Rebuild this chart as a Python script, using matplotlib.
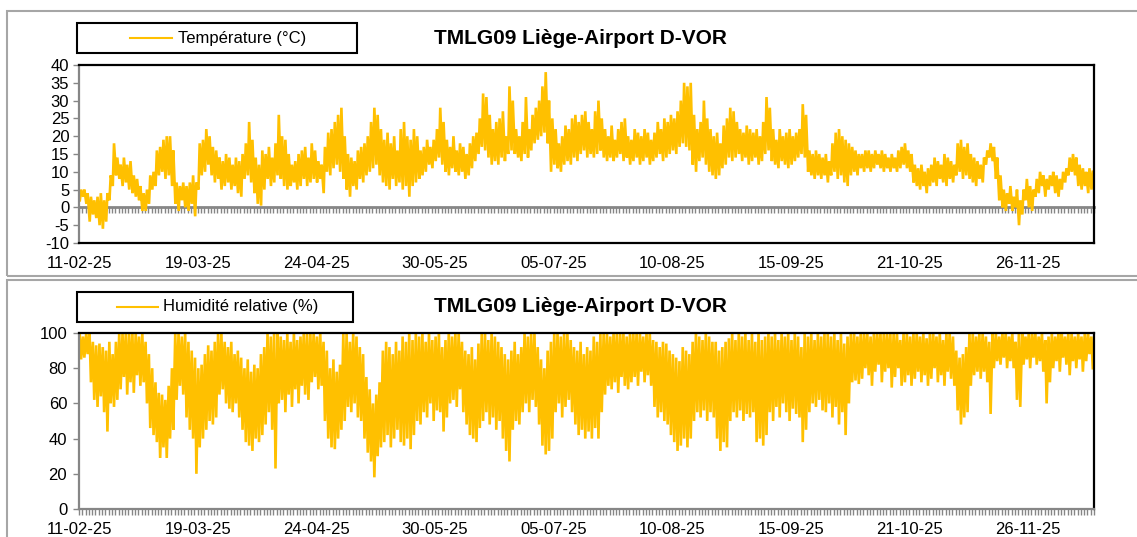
import matplotlib
matplotlib.use("Agg")
import matplotlib.pyplot as plt
import matplotlib.dates as mdates
from matplotlib.ticker import NullFormatter
from matplotlib.patches import Rectangle
from matplotlib.lines import Line2D
import numpy as np
import pandas as pd

plt.rcParams['font.family'] = ['Liberation Sans', 'DejaVu Sans']
plt.rcParams['axes.unicode_minus'] = False

# ---------------- data ----------------
station = "TMLG09 Liège-Airport D-VOR"
temp_label = "Température (°C)"
hum_label = "Humidité relative (%)"
start_date = "2025-02-11"
end_date = "2025-12-16"
tick_dates = ["2025-02-11", "2025-03-19", "2025-04-24", "2025-05-30", "2025-07-05",
              "2025-08-10", "2025-09-15", "2025-10-21", "2025-11-26"]
temp_ticks = [-10, -5, 0, 5, 10, 15, 20, 25, 30, 35, 40]
hum_ticks = [0, 20, 40, 60, 80, 100]

# daily minimum / maximum temperature (°C), from 11-02-25
temp_min = [2, 3, 1, -4, -2, -3, -5, -6, -4, 2,
            6, 9, 8, 6, 7, 5, 4, 3, 2, -1,
            -1, 1, 5, 6, 9, 10, 8, 9, 6, 1,
            -1, 2, 0, -1, 1, -2.5, 5, 9, 10, 12,
            9, 7, 8, 5, 6, 7, 5, 6, 4, 3,
            8, 9, 7, 4, 1, 0.5, 5, 8, 6, 7,
            9, 8, 6, 5, 6, 7, 5, 6, 8, 6,
            7, 8, 7, 8, 4, 10, 9, 11, 12, 10,
            8, 5, 3, 6, 5, 8, 7, 9, 10, 11,
            12, 9, 7, 6, 5, 8, 6, 7, 5, 6,
            3, 6, 7, 8, 9, 10, 12, 11, 13, 14,
            12, 10, 9, 11, 10, 9, 10, 8, 9, 11,
            13, 15, 17, 16, 14, 12, 13, 12, 14, 13,
            15, 16, 15, 14, 13, 15, 14, 16, 18, 19,
            20, 21, 18, 10, 12, 11, 10, 12, 13, 12,
            14, 13, 15, 16, 14, 15, 14, 15, 16, 14,
            13, 14, 13, 14, 15, 13, 14, 12, 13, 14,
            12, 13, 14, 12, 13, 14, 15, 13, 14, 15,
            16, 15, 17, 18, 17, 16, 12, 10, 13, 14,
            12, 10, 9, 8, 9, 11, 12, 14, 13, 14,
            15, 13, 14, 12, 13, 14, 12, 13, 15, 16,
            13, 12, 11, 13, 12, 11, 12, 13, 14, 15,
            14, 10, 9, 8, 9, 8, 9, 7, 9, 10,
            8, 9, 7, 6, 9, 10, 9, 11, 10, 11,
            10, 11, 12, 11, 10, 11, 10, 11, 10, 11,
            12, 11, 10, 7, 6, 5, 6, 4, 6, 7,
            6, 8, 7, 6, 8, 7, 9, 10, 8, 9,
            8, 7, 6, 8, 7, 12, 14, 13, 8, 2,
            0, -1, 1, -1, 0, -5, -2, 2, 0, -1,
            3, 4, 6, 3, 5, 6, 4, 3, 5, 7,
            9, 10, 9, 6, 5, 6, 4, 5]
temp_max = [5, 5, 4, 3, 2, 3, 4, 2, 4, 9,
            18, 14, 12, 14, 12, 13, 9, 8, 6, 4,
            5, 9, 10, 16, 17, 19, 20, 20, 16, 7,
            6, 7, 6, 7, 9, 7, 18, 19, 22, 20,
            17, 16, 14, 13, 15, 14, 12, 14, 13, 15,
            18, 24, 19, 14, 12, 16, 15, 17, 14, 18,
            26, 20, 19, 15, 12, 13, 15, 16, 17, 14,
            18, 16, 13, 12, 17, 21, 22, 24, 26, 28,
            20, 15, 14, 13, 16, 17, 18, 20, 24, 28,
            26, 22, 19, 21, 18, 20, 16, 22, 24, 20,
            19, 22, 20, 16, 17, 19, 17, 19, 22, 28,
            24, 19, 17, 20, 16, 18, 17, 15, 18, 20,
            21, 25, 32, 31, 26, 22, 24, 25, 27, 20,
            34, 30, 22, 20, 24, 31, 22, 26, 28, 30,
            34, 38, 30, 25, 22, 18, 20, 23, 22, 25,
            26, 24, 26, 27, 24, 22, 27, 30, 25, 22,
            20, 23, 19, 22, 24, 25, 20, 19, 22, 21,
            20, 22, 21, 19, 21, 24, 22, 25, 24, 26,
            25, 27, 30, 35, 34, 35, 26, 22, 24, 30,
            25, 22, 20, 21, 18, 23, 25, 28, 27, 24,
            22, 21, 23, 22, 21, 22, 20, 24, 31, 28,
            22, 19, 22, 20, 21, 22, 20, 21, 22, 29,
            26, 16, 15, 16, 15, 14, 15, 13, 18, 21,
            22, 20, 19, 18, 17, 16, 15, 15, 16, 16,
            15, 16, 15, 16, 15, 14, 15, 14, 16, 17,
            18, 16, 15, 12, 11, 12, 10, 11, 12, 14,
            13, 12, 15, 14, 13, 12, 18, 19, 17, 18,
            15, 14, 13, 12, 14, 16, 18, 17, 14, 9,
            5, 4, 6, 3, 5, 2, 5, 8, 6, 5,
            8, 10, 9, 8, 9, 10, 9, 8, 10, 11,
            14, 15, 14, 12, 11, 10, 11, 10]

# daily minimum / maximum relative humidity (%)
hum_min = [85, 86, 88, 72, 62, 58, 64, 55, 44, 60,
           58, 62, 68, 75, 65, 72, 66, 76, 70, 72,
           60, 46, 42, 38, 29, 35, 29, 40, 45, 62,
           70, 65, 52, 45, 40, 20, 35, 40, 45, 50,
           48, 52, 65, 68, 60, 57, 55, 60, 52, 45,
           38, 36, 33, 40, 38, 42, 48, 55, 45, 23,
           60, 62, 55, 65, 58, 68, 60, 70, 65, 62,
           72, 75, 68, 70, 50, 40, 35, 34, 40, 45,
           50, 58, 55, 60, 52, 50, 40, 32, 27, 18,
           30, 35, 38, 42, 35, 40, 45, 38, 36, 40,
           34, 42, 50, 48, 55, 52, 60, 50, 56, 55,
           44, 52, 60, 62, 58, 68, 55, 48, 42, 40,
           38, 46, 50, 55, 48, 52, 45, 50, 40, 33,
           27, 45, 50, 48, 55, 60, 55, 62, 58, 48,
           36, 31, 33, 40, 55, 60, 52, 58, 62, 55,
           48, 42, 45, 40, 44, 40, 46, 40, 55, 65,
           70, 68, 72, 66, 75, 70, 68, 72, 75, 70,
           78, 72, 76, 70, 58, 52, 55, 50, 48, 42,
           38, 33, 36, 40, 35, 40, 50, 55, 52, 56,
           50, 55, 52, 40, 33, 38, 35, 50, 55, 52,
           56, 50, 54, 52, 55, 38, 40, 36, 42, 55,
           50, 58, 52, 60, 55, 50, 57, 54, 52, 38,
           45, 55, 60, 58, 62, 56, 55, 60, 52, 58,
           48, 55, 42, 60, 72, 73, 71, 74, 80, 76,
           70, 78, 82, 72, 78, 80, 69, 75, 80, 70,
           72, 76, 70, 74, 78, 72, 76, 70, 74, 80,
           72, 76, 70, 78, 74, 70, 56, 48, 52, 55,
           70, 76, 78, 74, 78, 72, 54, 80, 84, 82,
           86, 80, 84, 80, 62, 58, 82, 85, 80, 86,
           82, 84, 78, 60, 72, 80, 84, 78, 86, 82,
           76, 84, 80, 85, 78, 84, 88, 80]
hum_max = [100, 98, 100, 100, 95, 93, 94, 92, 90, 95,
           88, 95, 100, 100, 100, 100, 100, 100, 98, 100,
           95, 88, 80, 72, 66, 65, 62, 70, 80, 100,
           100, 98, 100, 95, 90, 86, 80, 82, 88, 93,
           90, 95, 100, 100, 95, 92, 95, 88, 90, 86,
           80, 85, 78, 82, 80, 88, 92, 100, 98, 100,
           100, 98, 96, 100, 95, 100, 96, 98, 100, 100,
           100, 100, 98, 100, 95, 90, 80, 85, 78, 82,
           100, 100, 95, 100, 98, 92, 88, 75, 68, 60,
           65, 72, 90, 95, 92, 88, 95, 90, 98, 95,
           100, 96, 100, 98, 100, 95, 100, 96, 98, 100,
           92, 96, 100, 98, 100, 100, 95, 90, 88, 92,
           85, 94, 100, 100, 96, 100, 98, 95, 92, 88,
           85, 90, 95, 88, 92, 100, 98, 100, 100, 92,
           85, 80, 90, 95, 100, 100, 98, 100, 100, 96,
           92, 90, 95, 88, 92, 90, 98, 95, 100, 100,
           100, 98, 100, 100, 100, 100, 98, 100, 100, 100,
           100, 98, 100, 100, 96, 95, 92, 95, 94, 90,
           88, 86, 84, 92, 90, 88, 95, 100, 98, 96,
           100, 98, 95, 95, 90, 92, 95, 97, 100, 96,
           100, 98, 100, 96, 100, 95, 100, 96, 98, 100,
           98, 100, 96, 100, 98, 100, 96, 100, 98, 92,
           100, 98, 100, 96, 100, 98, 100, 100, 98, 100,
           96, 100, 94, 98, 100, 100, 98, 100, 100, 100,
           98, 100, 100, 100, 100, 100, 100, 100, 100, 96,
           100, 100, 98, 100, 100, 98, 100, 97, 100, 100,
           98, 100, 96, 100, 100, 98, 90, 86, 88, 92,
           100, 100, 98, 100, 100, 98, 95, 100, 100, 98,
           100, 100, 98, 100, 95, 100, 100, 98, 100, 100,
           100, 98, 100, 96, 98, 100, 98, 100, 100, 98,
           100, 100, 98, 100, 98, 100, 100, 98]

# ---------------- build series (min/max per day) ----------------
line_color = "#FFC000"
axis_gray = "#868686"
frame_gray = "#A6A6A6"

n_t = min(len(temp_min), len(temp_max))
n_h = min(len(hum_min), len(hum_max))


def interleave(times_a, vals_a, times_b, vals_b):
    t = np.empty(2 * len(vals_a), dtype=times_a.dtype)
    v = np.empty(2 * len(vals_a))
    t[0::2], t[1::2] = times_a, times_b
    v[0::2], v[1::2] = vals_a, vals_b
    return t, v


d_t = pd.date_range(start_date, periods=n_t, freq="D")
temp_t, temp_v = interleave((d_t + pd.Timedelta(hours=6)).values, np.array(temp_min[:n_t], float),
                            (d_t + pd.Timedelta(hours=15)).values, np.array(temp_max[:n_t], float))
d_h = pd.date_range(start_date, periods=n_h, freq="D")
hum_t, hum_v = interleave((d_h + pd.Timedelta(hours=5)).values, np.array(hum_max[:n_h], float),
                          (d_h + pd.Timedelta(hours=15)).values, np.array(hum_min[:n_h], float))

# ---------------- figure ----------------
W, H = 1137, 537
fig = plt.figure(figsize=(W / 100, H / 100), dpi=100)


def fx(x):
    return x / W


def fy(y):
    return 1 - y / H


# panel frames
for (x0, y0, x1, y1) in [(7, 11, 1150, 276), (7, 280, 1150, 545)]:
    fig.add_artist(Rectangle((fx(x0), fy(y1)), fx(x1) - fx(x0), fy(y0) - fy(y1),
                             transform=fig.transFigure, fill=False,
                             edgecolor=frame_gray, lw=1.5, clip_on=False))

ax1 = fig.add_axes([fx(79), fy(243), fx(1094) - fx(79), fy(65) - fy(243)])
ax2 = fig.add_axes([fx(79), fy(509), fx(1094) - fx(79), fy(333) - fy(509)])

xmin, xmax = pd.Timestamp(start_date), pd.Timestamp(end_date)
major = pd.to_datetime(tick_dates)

TICK_FS = 12
LW = 1.9

# ---- temperature panel ----
ax1.plot(temp_t, temp_v, color=line_color, lw=LW, solid_joinstyle='miter')
ax1.set_xlim(xmin, xmax)
ax1.set_ylim(temp_ticks[0], temp_ticks[-1])
ax1.set_yticks(temp_ticks)
ax1.set_xticks(major)
ax1.xaxis.set_major_formatter(mdates.DateFormatter("%d-%m-%y"))
ax1.tick_params(axis='x', length=0, pad=9, labelsize=TICK_FS, colors='black')
ax1.tick_params(axis='y', length=4, width=1, color=axis_gray, pad=3, labelsize=TICK_FS)
for s in ['top', 'right', 'bottom']:
    ax1.spines[s].set_color('black')
    ax1.spines[s].set_linewidth(1.6)
ax1.spines['left'].set_color(axis_gray)
ax1.spines['left'].set_linewidth(1.6)

zero_frac = (0 - temp_ticks[0]) / (temp_ticks[-1] - temp_ticks[0])
sec = ax1.secondary_xaxis(zero_frac)
sec.xaxis.set_major_locator(mdates.DayLocator())
sec.xaxis.set_major_formatter(NullFormatter())
sec.tick_params(axis='x', which='both', length=4, width=1, color=axis_gray, direction='out')
sec.spines['bottom'].set_color(axis_gray)
sec.spines['bottom'].set_linewidth(2)

# ---- humidity panel ----
ax2.plot(hum_t, hum_v, color=line_color, lw=LW, solid_joinstyle='miter')
ax2.set_xlim(xmin, xmax)
ax2.set_ylim(hum_ticks[0], hum_ticks[-1])
ax2.set_yticks(hum_ticks)
ax2.set_xticks(major)
ax2.xaxis.set_major_formatter(mdates.DateFormatter("%d-%m-%y"))
ax2.xaxis.set_minor_locator(mdates.DayLocator())
ax2.tick_params(axis='x', which='both', length=4, width=1, color=axis_gray, pad=5, labelsize=TICK_FS)
ax2.tick_params(axis='y', length=4, width=1, color=axis_gray, pad=4.5, labelsize=TICK_FS)
for s in ['top', 'right']:
    ax2.spines[s].set_color('black')
    ax2.spines[s].set_linewidth(1.6)
for s in ['left', 'bottom']:
    ax2.spines[s].set_color(axis_gray)
    ax2.spines[s].set_linewidth(1.6)

# ---- titles & legends ----
fig.text(fx(580), fy(38), station, ha='center', va='center', fontsize=15, fontweight='bold')
fig.text(fx(580), fy(306), station, ha='center', va='center', fontsize=15, fontweight='bold')


def legend_box(x0, y0, x1, y1, lx0, lx1, tx, label):
    fig.add_artist(Rectangle((fx(x0), fy(y1)), fx(x1) - fx(x0), fy(y0) - fy(y1),
                             transform=fig.transFigure, fill=True, facecolor='white',
                             edgecolor='black', lw=1.5))
    yc = (y0 + y1) / 2
    fig.add_artist(Line2D([fx(lx0), fx(lx1)], [fy(yc), fy(yc)], transform=fig.transFigure,
                          color=line_color, lw=1.5))
    fig.text(fx(tx), fy(yc), label, ha='left', va='center', fontsize=12)


legend_box(77, 23, 357, 53, 130, 172, 178, temp_label)
legend_box(77, 292, 353, 322, 117, 158, 163, hum_label)

fig.savefig("out.png", dpi=100)
